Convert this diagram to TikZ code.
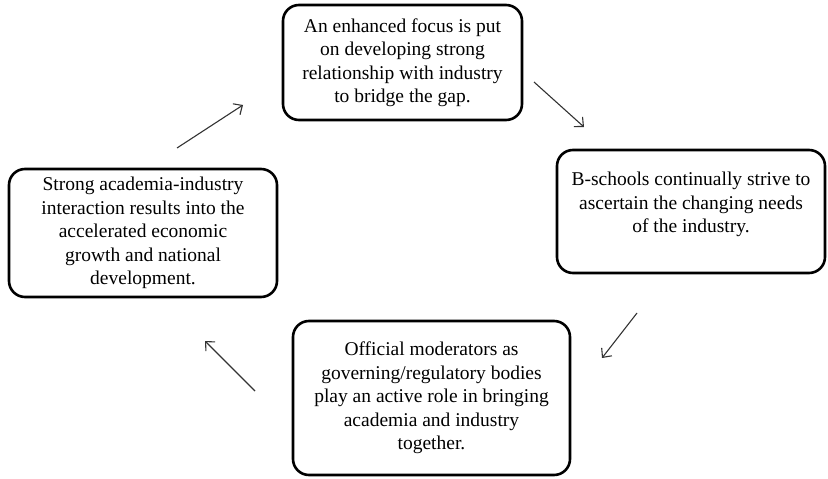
\documentclass[tikz,border=0pt]{standalone}
\usepackage{fontspec}
\setmainfont{Liberation Serif}
\usetikzlibrary{arrows.meta}
\begin{document}
\begin{tikzpicture}[x=1bp,y=-1bp,
  stagebox/.style={draw=black, line width=2.6bp, rounded corners=16bp, fill=white, inner sep=0pt},
  stagetext/.style={align=center, font=\fontsize{19.5bp}{23.5bp}\selectfont, inner sep=0pt},
  flow/.style={draw=black!80, line width=1.1bp, -{Straight Barb[length=7bp,width=13bp,line width=1.1bp]}}]
  \useasboundingbox[fill=white] (0,0) rectangle (828,479);

  % the four stages of the cycle
  \node[stagebox, minimum width=239bp, minimum height=115bp] (focus) at (402.5,62.5) {};
  \node[stagetext] (focustxt) at (focus.center) {An enhanced focus is put\\on developing strong\\relationship with industry\\to bridge the gap.};

  \node[stagebox, minimum width=268bp, minimum height=123bp] (needs) at (691,211.5) {};
  \node[stagetext] (needstxt) at ([yshift=7bp]needs.center) {B-schools continually strive to\\ascertain the changing needs\\of the industry.};

  \node[stagebox, minimum width=277bp, minimum height=154bp] (moder) at (431.5,398) {};
  \node[stagetext] (modertxt) at (moder.center) {Official moderators as\\governing/regulatory bodies\\play an active role in bringing\\academia and industry\\together.};

  \node[stagebox, minimum width=268bp, minimum height=128bp] (growth) at (143,233) {};
  \node[stagetext] (growthtxt) at (growth.center) {Strong academia-industry\\interaction results into the\\accelerated economic\\growth and national\\development.};

  % free-standing arrows between the stages
  \coordinate (a1s) at (177,148); \coordinate (a1e) at (243,105);
  \coordinate (a2s) at (534,82);  \coordinate (a2e) at (584,127);
  \coordinate (a3s) at (637,313); \coordinate (a3e) at (602,358);
  \coordinate (a4s) at (255,391); \coordinate (a4e) at (205,341);
  \draw[flow] (a1s) -- (a1e);
  \draw[flow] (a2s) -- (a2e);
  \draw[flow] (a3s) -- (a3e);
  \draw[flow] (a4s) -- (a4e);
\end{tikzpicture}
\end{document}
